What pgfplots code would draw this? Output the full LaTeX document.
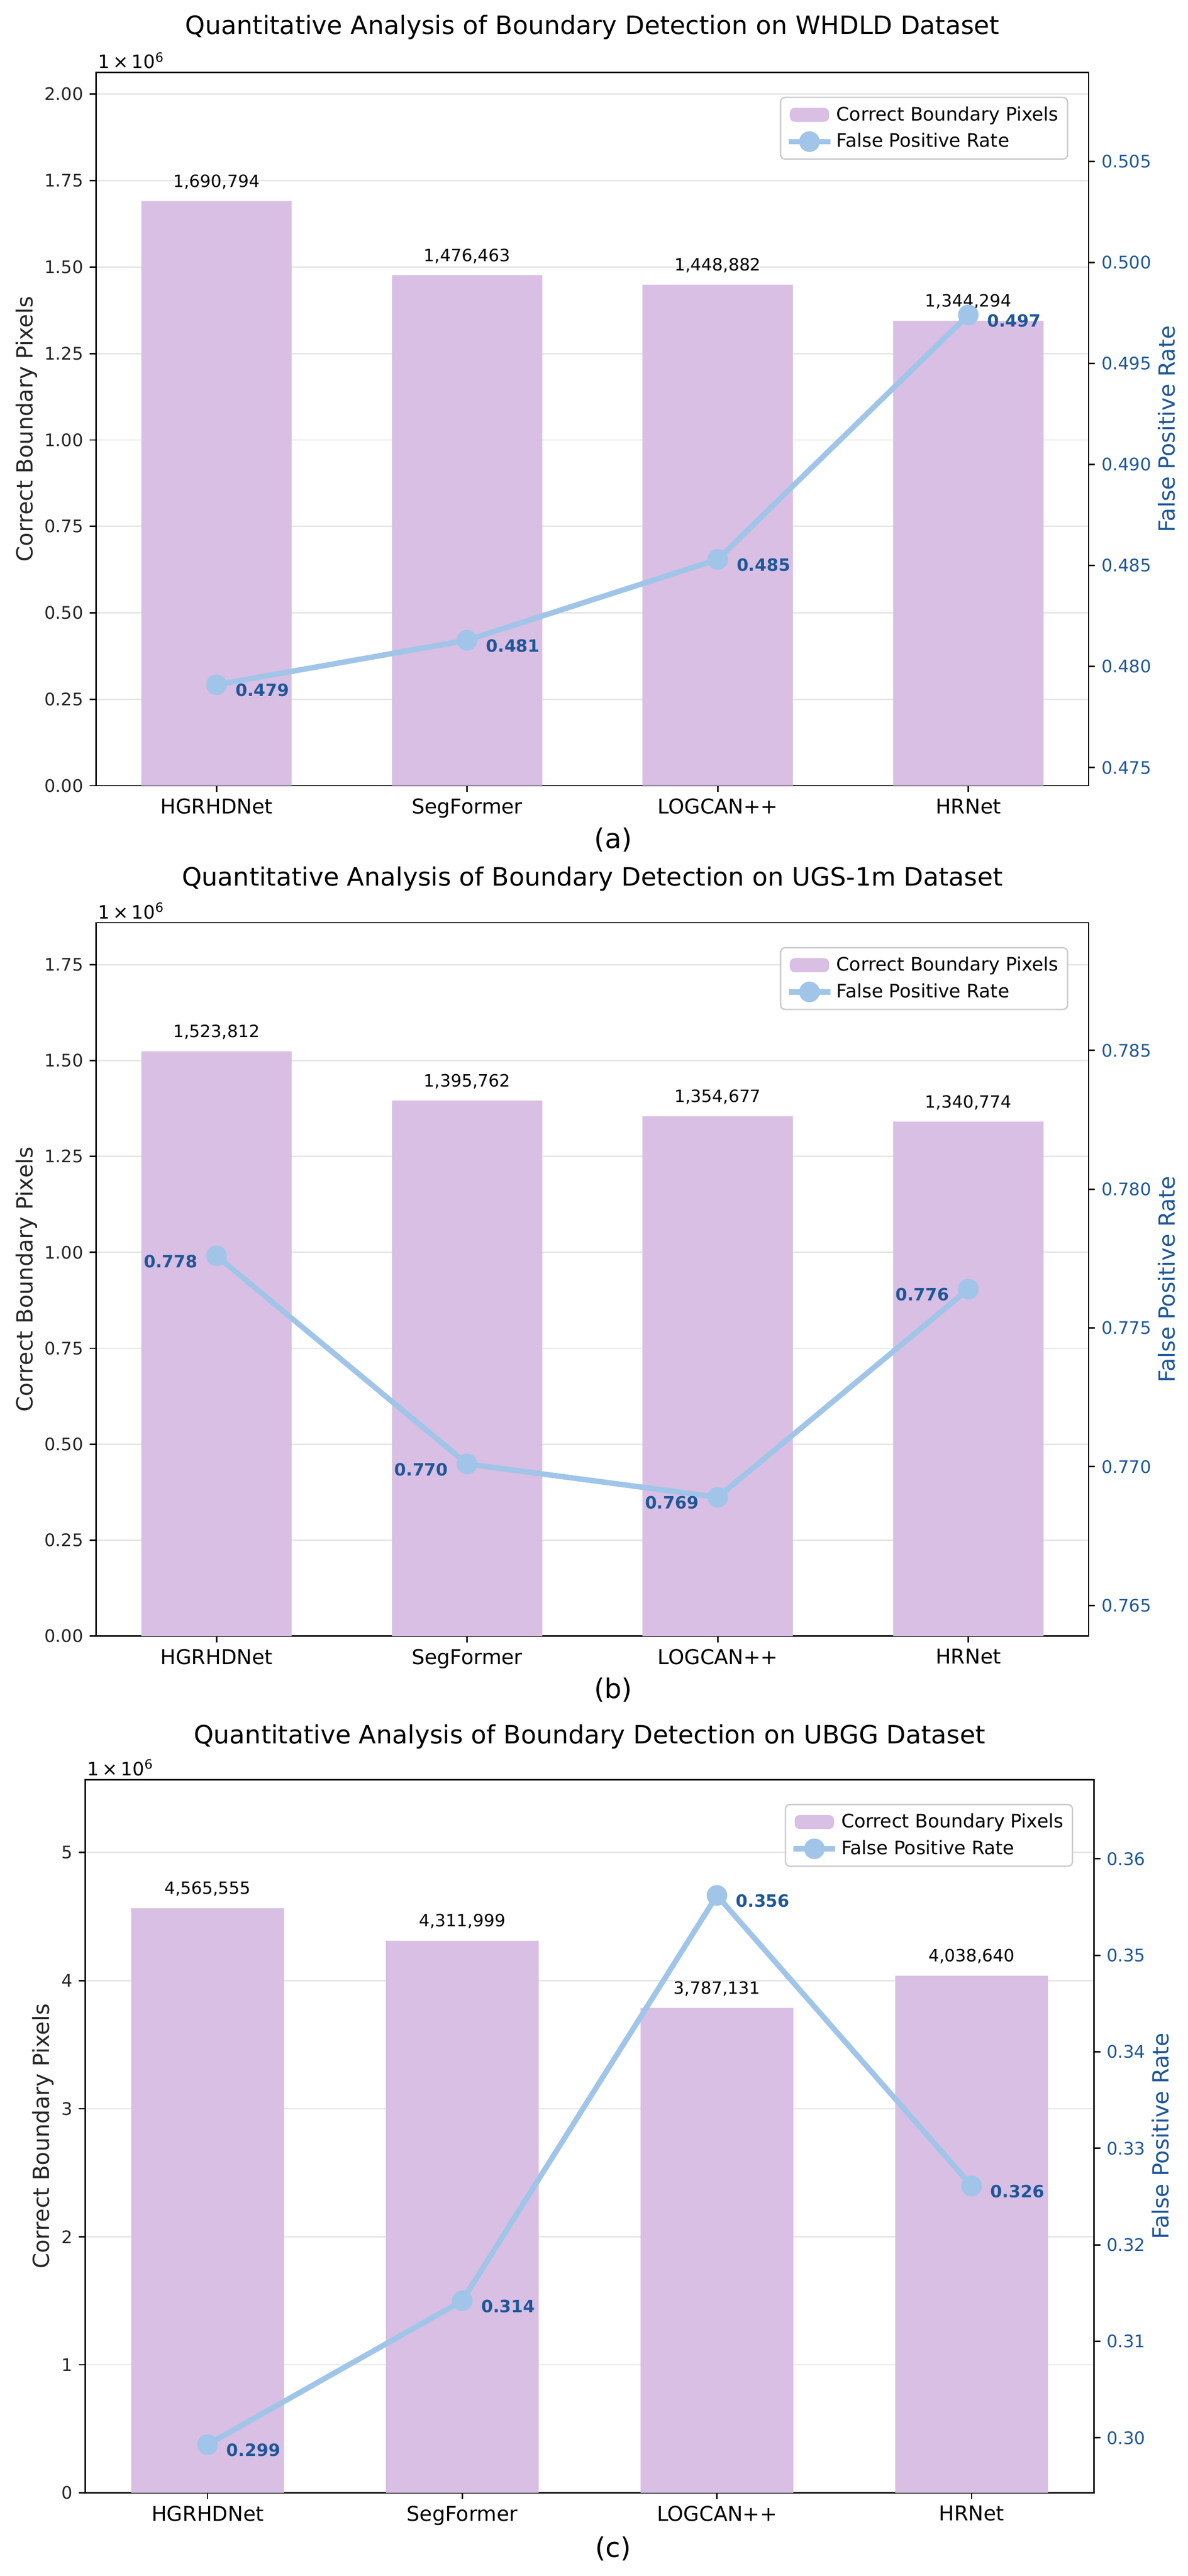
\documentclass[border=0pt]{standalone}
\usepackage{fontspec}
\setmainfont{DejaVu Sans}
\usepackage{pgfplots}
\pgfplotsset{compat=1.18}
\definecolor{barc}{RGB}{216,191,227}
\definecolor{linec}{RGB}{160,197,232}
\definecolor{fprc}{RGB}{30,87,153}
\definecolor{gridc}{RGB}{230,230,230}
\definecolor{legc}{RGB}{204,204,204}
\newcommand\fsTick{\fontsize{9.6pt}{11.5pt}\selectfont}
\newcommand\fsSci{\fontsize{10.2pt}{12pt}\selectfont}
\newcommand\fsVal{\fontsize{9.4pt}{11.3pt}\selectfont}
\newcommand\fsX{\fontsize{11.3pt}{13.5pt}\selectfont}
\newcommand\fsLab{\fontsize{12.3pt}{14.8pt}\selectfont}
\newcommand\fsLeg{\fontsize{10.3pt}{12.4pt}\selectfont}
\newcommand\fsTitle{\fontsize{14pt}{16.8pt}\selectfont}
\newcommand\fsCap{\fontsize{15pt}{18pt}\selectfont}
\newcommand\sci{1\hspace{0.17em}×\hspace{0.17em}10\textsuperscript{6}}
\pgfplotsset{
  leftax/.style={
    width=549.6pt, height=395pt, scale only axis, anchor=south west,
    xmin=-0.48, xmax=3.48, ymin=0,
    xtick={0,1,2,3}, xticklabels={HGRHDNet,SegFormer,LOGCAN++,HRNet},
    xtick pos=bottom, ytick pos=left,
    tick align=outside, major tick length=3.5pt,
    every tick/.style={black, line width=0.8pt},
    axis line style={line width=0.8pt, black},
    ymajorgrids, grid style={line width=0.8pt, gridc},
    xticklabel style={font=\fsX, inner sep=0pt, yshift=-3.5pt},
    yticklabel style={font=\fsTick, text=black!85, inner sep=0pt, xshift=-3.5pt},
    scaled y ticks=false,
    ylabel={Correct Boundary Pixels},
    ylabel style={font=\fsLab, anchor=center, text=black!85},
    clip=false,
  },
  rightax/.style={
    width=549.6pt, height=395pt, scale only axis, anchor=south west,
    xmin=-0.48, xmax=3.48,
    axis x line=none, axis y line*=right,
    tick align=outside, major tick length=3.5pt,
    every tick/.style={black, line width=0.8pt},
    axis line style={line width=0.8pt, black},
    yticklabel style={font=\fsTick, text=fprc, inner sep=0pt, xshift=3.5pt},
    ylabel={False Positive Rate},
    ylabel style={font=\fsLab, anchor=center, text=fprc},
    legend cell align=left,
    legend style={at={(rel axis cs:0.9795,0.966)}, anchor=north east,
      draw=legc, line width=0.8pt, rounded corners=2.5pt, fill=white,
      font=\fsLeg, inner xsep=3pt, inner ysep=3pt, row sep=1.5pt,
      /tikz/every even column/.append style={column sep=6pt}},
    clip=false,
  },
  barplot/.style={ybar, bar width=0.6, fill=barc, draw=none},
  lineplot/.style={color=linec, line width=3pt, mark=*, mark size=4.2pt,
    mark options={fill=linec, draw=none}},
  barleg/.style={legend image code/.code={\fill[barc] (1pt,-3.5pt) rectangle (22pt,3.5pt);}},
  lineleg/.style={legend image code/.code={%
    \draw[mark repeat=2,mark phase=2,##1] plot coordinates {(0pt,0pt) (11.5pt,0pt) (23pt,0pt)};}},
}
\tikzset{
  vallab/.style={font=\fsVal, anchor=base, yshift=7.7pt},
  fprR/.style={font=\fsVal\bfseries, text=fprc, anchor=base west, xshift=7pt, yshift=-6.5pt},
  fprL/.style={font=\fsVal\bfseries, text=fprc, anchor=base east, xshift=-7pt, yshift=-6.5pt},
  scilab/.style={font=\fsSci, anchor=base west, xshift=1pt, yshift=2.2pt, inner sep=0pt},
}
\begin{document}
\begin{tikzpicture}
\path[use as bounding box] (0pt,0pt) rectangle (657.84pt,-1426.56pt);

% ---------------- Panel (a) ----------------
\node[font=\fsTitle, anchor=base] at (328.1pt,-18.96pt) {Quantitative Analysis of Boundary Detection on WHDLD Dataset};
\begin{axis}[leftax, at={(53.28pt,-435.12pt)}, ymax=2062768,
  ytick={0,250000,500000,750000,1000000,1250000,1500000,1750000,2000000},
  yticklabels={0.00,0.25,0.50,0.75,1.00,1.25,1.50,1.75,2.00},
  ylabel style={at={(axis description cs:-0.0703,0.5)}}]
\addplot[barplot] coordinates {(0,1690794) (1,1476463) (2,1448882) (3,1344294)};
\node[vallab] at (axis cs:0,1690794) {1,690,794};
\node[vallab] at (axis cs:1,1476463) {1,476,463};
\node[vallab] at (axis cs:2,1448882) {1,448,882};
\node[vallab] at (axis cs:3,1344294) {1,344,294};
\node[scilab] at (rel axis cs:0,1) {\sci};
\end{axis}
\begin{axis}[rightax, at={(53.28pt,-435.12pt)}, ymin=0.4741, ymax=0.5094,
  ytick={0.475,0.480,0.485,0.490,0.495,0.500,0.505},
  yticklabels={0.475,0.480,0.485,0.490,0.495,0.500,0.505},
  ylabel style={at={(axis description cs:1.0786,0.5)}}]
\addlegendimage{barleg}
\addlegendentry{Correct Boundary Pixels}
\addplot[lineplot, lineleg] coordinates {(0,0.4791) (1,0.4813) (2,0.4853) (3,0.4974)};
\addlegendentry{False Positive Rate}
\node[fprR] at (axis cs:0,0.4791) {0.479};
\node[fprR] at (axis cs:1,0.4813) {0.481};
\node[fprR] at (axis cs:2,0.4853) {0.485};
\node[fprR] at (axis cs:3,0.4974) {0.497};
\end{axis}
\node[font=\fsCap, anchor=base] at (339.6pt,-469.7pt) {(a)};

% ---------------- Panel (b) ----------------
\node[font=\fsTitle, anchor=base] at (328.1pt,-490.6pt) {Quantitative Analysis of Boundary Detection on UGS-1m Dataset};
\begin{axis}[leftax, at={(53.28pt,-906.0pt)}, ymax=1859051,
  ytick={0,250000,500000,750000,1000000,1250000,1500000,1750000},
  yticklabels={0.00,0.25,0.50,0.75,1.00,1.25,1.50,1.75},
  ylabel style={at={(axis description cs:-0.0703,0.5)}}]
\addplot[barplot] coordinates {(0,1523812) (1,1395762) (2,1354677) (3,1340774)};
\node[vallab] at (axis cs:0,1523812) {1,523,812};
\node[vallab] at (axis cs:1,1395762) {1,395,762};
\node[vallab] at (axis cs:2,1354677) {1,354,677};
\node[vallab] at (axis cs:3,1340774) {1,340,774};
\node[scilab] at (rel axis cs:0,1) {\sci};
\end{axis}
\begin{axis}[rightax, at={(53.28pt,-906.0pt)}, ymin=0.7639, ymax=0.7896,
  ytick={0.765,0.770,0.775,0.780,0.785},
  yticklabels={0.765,0.770,0.775,0.780,0.785},
  ylabel style={at={(axis description cs:1.0786,0.5)}}]
\addlegendimage{barleg}
\addlegendentry{Correct Boundary Pixels}
\addplot[lineplot, lineleg] coordinates {(0,0.7776) (1,0.7701) (2,0.7689) (3,0.7764)};
\addlegendentry{False Positive Rate}
\node[fprL] at (axis cs:0,0.7776) {0.778};
\node[fprL] at (axis cs:1,0.7701) {0.770};
\node[fprL] at (axis cs:2,0.7689) {0.769};
\node[fprL] at (axis cs:3,0.7764) {0.776};
\end{axis}
\node[font=\fsCap, anchor=base] at (339.6pt,-940.6pt) {(b)};

% ---------------- Panel (c) ----------------
\node[font=\fsTitle, anchor=base] at (326.5pt,-965.5pt) {Quantitative Analysis of Boundary Detection on UBGG Dataset};
\begin{axis}[leftax, width=558.5pt, at={(47.28pt,-1380.5pt)}, ymax=5569977,
  ytick={0,1000000,2000000,3000000,4000000,5000000},
  yticklabels={0,1,2,3,4,5},
  ylabel style={at={(axis description cs:-0.0417,0.5)}}]
\addplot[barplot] coordinates {(0,4565555) (1,4311999) (2,3787131) (3,4038640)};
\node[vallab] at (axis cs:0,4565555) {4,565,555};
\node[vallab] at (axis cs:1,4311999) {4,311,999};
\node[vallab] at (axis cs:2,3787131) {3,787,131};
\node[vallab] at (axis cs:3,4038640) {4,038,640};
\node[scilab] at (rel axis cs:0,1) {\sci};
\end{axis}
\begin{axis}[rightax, width=558.5pt, at={(47.28pt,-1380.5pt)}, ymin=0.2943, ymax=0.3682,
  ytick={0.30,0.31,0.32,0.33,0.34,0.35,0.36},
  yticklabels={0.30,0.31,0.32,0.33,0.34,0.35,0.36},
  ylabel style={at={(axis description cs:1.0662,0.5)}}]
\addlegendimage{barleg}
\addlegendentry{Correct Boundary Pixels}
\addplot[lineplot, lineleg] coordinates {(0,0.2993) (1,0.3142) (2,0.3562) (3,0.3261)};
\addlegendentry{False Positive Rate}
\node[fprR] at (axis cs:0,0.2993) {0.299};
\node[fprR] at (axis cs:1,0.3142) {0.314};
\node[fprR] at (axis cs:2,0.3562) {0.356};
\node[fprR] at (axis cs:3,0.3261) {0.326};
\end{axis}
\node[font=\fsCap, anchor=base] at (339.6pt,-1416.0pt) {(c)};
\end{tikzpicture}
\end{document}
